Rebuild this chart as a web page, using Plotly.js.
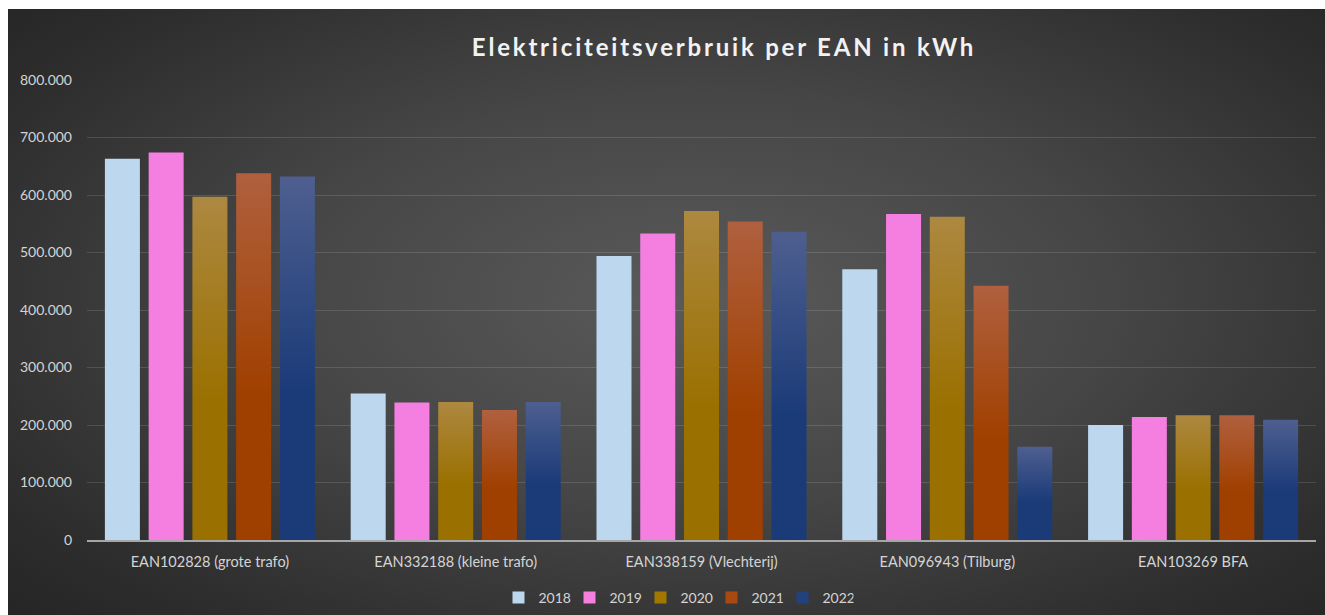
<!DOCTYPE html>
<html>
<head>
<meta charset="utf-8">
<script src="https://cdn.plot.ly/plotly-3.0.1.min.js"></script>
<style>
  html, body { margin: 0; padding: 0; background: #ffffff; }
  #bg { position: absolute; left: 8px; top: 9px; width: 1317px; height: 606px;
        background: radial-gradient(ellipse 70% 75% at 52% 48%, #5a5a5a 0%, #464646 45%, #2d2d2d 85%, #262626 100%); }
  #chart { position: absolute; left: 0; top: 0; width: 1325px; height: 615px; }
</style>
</head>
<body>
<div id="bg"></div>
<div id="chart"></div>
<script>
const categories = ["EAN102828 (grote trafo)", "EAN332188 (kleine trafo)", "EAN338159 (Vlechterij)", "EAN096943 (Tilburg)", "EAN103269 BFA"];
const years = ["2018", "2019", "2020", "2021", "2022"];
const v2018 = [663000, 255000, 494000, 471000, 200000];
const v2019 = [674000, 239000, 533000, 567000, 214000];
const v2020 = [597000, 240000, 572000, 562000, 217000];
const v2021 = [638000, 226000, 554000, 442000, 217000];
const v2022 = [632000, 240000, 536000, 162000, 209000];
const yTicks = [0, 100000, 200000, 300000, 400000, 500000, 600000, 700000, 800000];

const seriesValues = [v2018, v2019, v2020, v2021, v2022];
const colors = ["#BDD7EE", "#F47FE0", "#A07800", "#A84A10", "#22427E"];
const gradients = [null, null, ["#AD8840", "#9A7000"], ["#B0603F", "#A04000"], ["#4E5F8F", "#1A3A78"]];

const font = "Lato, 'Open Sans', sans-serif";
const traces = years.map((y, i) => ({
  type: "bar",
  name: y,
  x: categories,
  y: seriesValues[i],
  marker: { color: colors[i], line: { width: 0 } },
  hoverinfo: "x+y+name"
}));

const plotL = 87, plotR = 9;
const plotW = 1325 - plotL - plotR;
const layout = {
  width: 1325, height: 615,
  paper_bgcolor: "rgba(0,0,0,0)",
  plot_bgcolor: "rgba(0,0,0,0)",
  separators: ",.",
  margin: { l: plotL, r: plotR, t: 80, b: 75 },
  barmode: "group",
  bargap: 0.11,
  bargroupgap: 0.2,
  title: {
    text: "Elektriciteitsverbruik per EAN in kWh",
    font: { family: font, size: 24, color: "#F2F2F2", weight: "bold" },
    x: (724 - plotL) / plotW, xref: "paper", xanchor: "center",
    y: 1 - 48 / 615, yref: "container", yanchor: "middle"
  },
  xaxis: {
    type: "category",
    showgrid: false,
    showline: true, linecolor: "#A6A6A6", linewidth: 1.5,
    ticks: "", zeroline: false,
    tickfont: { family: font, size: 14.5, color: "#D4D4D4" },
    ticklabelstandoff: 8
  },
  yaxis: {
    range: [0, 800000],
    tickvals: yTicks,
    tickformat: ",.0f",
    showgrid: true, gridcolor: "rgba(255,255,255,0.13)", gridwidth: 1,
    zeroline: false, showline: false, ticks: "",
    tickfont: { family: font, size: 14, color: "#D4D4D4" },
    ticklabelstandoff: 14
  },
  legend: {
    orientation: "h",
    x: (676 - plotL) / plotW, xref: "paper", xanchor: "center",
    y: 1 - 598 / 615, yref: "container", yanchor: "middle",
    font: { family: font, size: 14, color: "#D4D4D4" },
    itemwidth: 30,
    entrywidth: 26, entrywidthmode: "pixels",
    bgcolor: "rgba(0,0,0,0)",
    traceorder: "normal"
  },
  showlegend: true
};

function applyGradients(gd) {
  const svg = gd.querySelector("svg.main-svg");
  if (!svg) return;
  let defs = svg.querySelector("defs");
  if (!defs) { defs = document.createElementNS("http://www.w3.org/2000/svg", "defs"); svg.insertBefore(defs, svg.firstChild); }
  gradients.forEach((g, i) => {
    if (!g) return;
    const id = "bargrad" + i;
    if (!defs.querySelector("#" + id)) {
      const lg = document.createElementNS("http://www.w3.org/2000/svg", "linearGradient");
      lg.setAttribute("id", id);
      lg.setAttribute("x1", "0"); lg.setAttribute("y1", "0");
      lg.setAttribute("x2", "0"); lg.setAttribute("y2", "1");
      [["0", g[0]], ["0.6", g[1]], ["1", g[1]]].forEach(([o, c]) => {
        const s = document.createElementNS("http://www.w3.org/2000/svg", "stop");
        s.setAttribute("offset", o); s.setAttribute("stop-color", c);
        lg.appendChild(s);
      });
      defs.appendChild(lg);
    }
  });
  gd.querySelectorAll(".barlayer .trace").forEach((tg, i) => {
    if (!gradients[i]) return;
    tg.querySelectorAll("path").forEach(p => { p.style.fill = "url(#bargrad" + i + ")"; });
  });
  const t = gd.querySelector(".gtitle");
  if (t) t.style.letterSpacing = "2.8px";
}

Plotly.newPlot("chart", traces, layout, { displayModeBar: false, staticPlot: true }).then(gd => {
  applyGradients(gd);
  gd.on("plotly_afterplot", () => applyGradients(gd));
});
</script>
</body>
</html>
